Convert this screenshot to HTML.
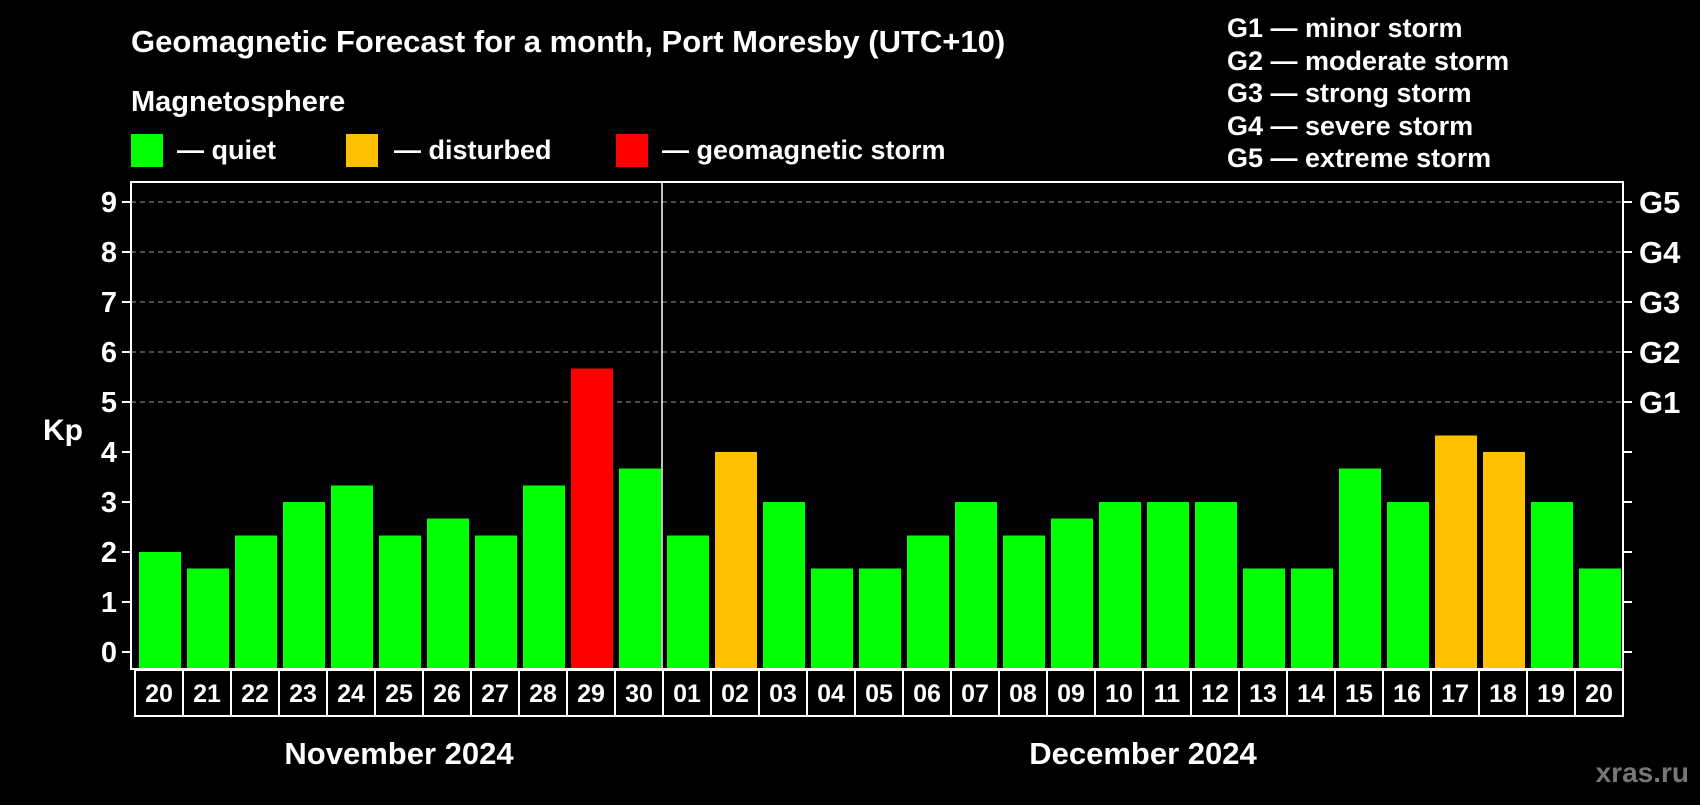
<!DOCTYPE html>
<html><head><meta charset="utf-8"><style>
body{margin:0;background:#000;width:1700px;height:800px;overflow:hidden}
text{font-family:"Liberation Sans",Arial,sans-serif;font-weight:bold;fill:#fff}
</style></head><body>
<svg id="c" width="1700" height="800">
<text x="131" y="52" font-size="31">Geomagnetic Forecast for a month, Port Moresby (UTC+10)</text>
<text x="131" y="111" font-size="29">Magnetosphere</text>
<rect x="131" y="134" width="32" height="33" fill="#00ff00"/>
<text x="177" y="159" font-size="27">— quiet</text>
<rect x="346" y="134" width="32" height="33" fill="#ffc000"/>
<text x="394" y="159" font-size="27">— disturbed</text>
<rect x="616" y="134" width="32" height="33" fill="#ff0000"/>
<text x="662" y="159" font-size="27">— geomagnetic storm</text>
<g font-size="27">
<text x="1227" y="37">G1 — minor storm</text>
<text x="1227" y="70">G2 — moderate storm</text>
<text x="1227" y="102">G3 — strong storm</text>
<text x="1227" y="135">G4 — severe storm</text>
<text x="1227" y="167">G5 — extreme storm</text>
</g>
<text x="63" y="440" font-size="30" text-anchor="middle">Kp</text>
<text x="399" y="764" font-size="31" text-anchor="middle">November 2024</text>
<text x="1143" y="764" font-size="31" text-anchor="middle">December 2024</text>
<text x="1689" y="782" font-size="28" text-anchor="end" style="fill:#777">xras.ru</text>
<g id="plot"></g>
</svg>
<script>
const days=["20","21","22","23","24","25","26","27","28","29","30","01","02","03","04","05","06","07","08","09","10","11","12","13","14","15","16","17","18","19","20"];
const kp=[2,1.67,2.33,3,3.33,2.33,2.67,2.33,3.33,5.67,3.67,2.33,4,3,1.67,1.67,2.33,3,2.33,2.67,3,3,3,1.67,1.67,3.67,3,4.33,4,3,1.67];
const yTicks=["0","1","2","3","4","5","6","7","8","9"];
const gLabels=["G1","G2","G3","G4","G5"];
const monthSplit=11;
const NS="http://www.w3.org/2000/svg";
const g=document.getElementById('plot');
const L=131,R=1623,T=182,B=669,slot0=135,pitch=48;
const y=v=>652-v*50;
const x=i=>slot0+i*pitch;
function mk(t,a){const e=document.createElementNS(NS,t);for(const k in a)e.setAttribute(k,a[k]);g.appendChild(e);return e;}
yTicks.forEach((t,i)=>{
 const yy=y(+t);
 if(+t>=5){const ln=mk('line',{x1:L,x2:R,y1:yy,y2:yy,stroke:'#999','stroke-dasharray':'5,4','stroke-width':1});
 
 }
 const tk=mk('line',{x1:L-9,x2:L,y1:yy,y2:yy,stroke:'#fff','stroke-width':2});
 
 
 const tk2=mk('line',{x1:R,x2:R+9,y1:yy,y2:yy,stroke:'#fff','stroke-width':2});
 
 
 const tx=mk('text',{x:L-14,y:yy+10,'font-size':29,'text-anchor':'end'});tx.textContent=t;
 
 
});
gLabels.forEach((t,i)=>{
 const tx=mk('text',{x:R+16,y:y(5+i)+11,'font-size':31});tx.textContent=t;
 
 
});
kp.forEach((v,i)=>{
 const col=v>=5?'#ff0000':(v>=4?'#ffc000':'#00ff00');
 const b=mk('rect',{x:x(i)+4,y:y(v),width:42,height:B-y(v),fill:col});
 
 
 const c=mk('rect',{x:x(i),y:670,width:pitch,height:46,fill:'none',stroke:'#fff','stroke-width':2});
 
 
 const tx=mk('text',{x:x(i)+24,y:702,'font-size':25,'text-anchor':'middle'});tx.textContent=days[i];
 
 
});
const fr=mk('rect',{x:L,y:T,width:R-L,height:B-T,fill:'none',stroke:'#fff','stroke-width':2});


const dv=mk('line',{x1:x(monthSplit)-1,x2:x(monthSplit)-1,y1:T,y2:B,stroke:'#fff','stroke-width':1.5});


</script>
</body></html>
